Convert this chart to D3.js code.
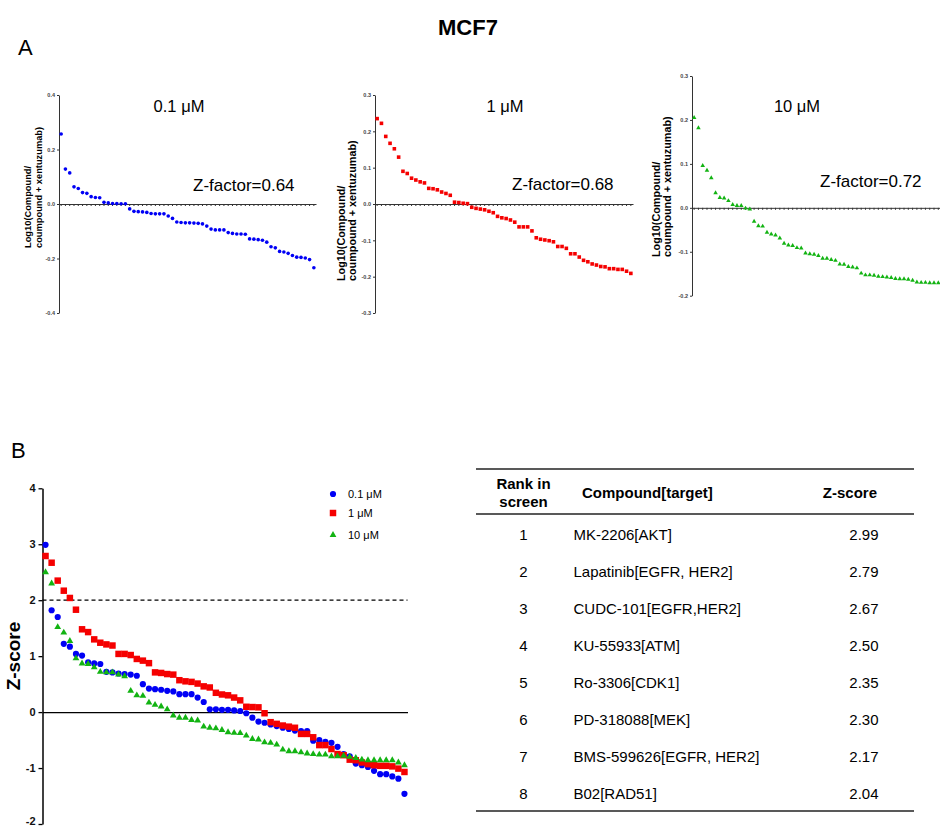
<!DOCTYPE html>
<html>
<head>
<meta charset="utf-8">
<script src="https://cdn.jsdelivr.net/npm/d3@7"></script>
<style>
  html, body { margin: 0; padding: 0; background: #fff; }
  svg { display: block; font-family: "Liberation Sans", Arial, sans-serif; }
</style>
</head>
<body>
<svg id="chart" width="940" height="827"></svg>
<script>
// ---------------- DATA ----------------
// Panel A: Log10(Compound / compound + xentuzumab), sorted, 60 compounds per concentration
const a01 = [0.257,0.128,0.114,0.063,0.057,0.042,0.039,0.027,0.024,0.023,0.006,0.004,0.002,0.002,0.001,0.001,-0.018,-0.027,-0.028,-0.029,-0.031,-0.035,-0.036,-0.036,-0.036,-0.044,-0.053,-0.066,-0.068,-0.069,-0.069,-0.070,-0.071,-0.073,-0.081,-0.092,-0.095,-0.095,-0.095,-0.105,-0.108,-0.110,-0.110,-0.111,-0.128,-0.129,-0.131,-0.133,-0.140,-0.157,-0.161,-0.174,-0.176,-0.181,-0.189,-0.195,-0.196,-0.198,-0.204,-0.234];
const a1 = [0.235,0.222,0.186,0.167,0.152,0.129,0.090,0.084,0.071,0.066,0.061,0.058,0.043,0.042,0.039,0.033,0.029,0.024,0.005,0.004,0.002,0.001,-0.009,-0.012,-0.014,-0.016,-0.020,-0.024,-0.034,-0.038,-0.040,-0.044,-0.050,-0.063,-0.063,-0.063,-0.074,-0.093,-0.097,-0.099,-0.101,-0.104,-0.117,-0.117,-0.122,-0.137,-0.137,-0.146,-0.155,-0.159,-0.165,-0.168,-0.172,-0.173,-0.178,-0.178,-0.180,-0.180,-0.185,-0.191];
const a10 = [0.205,0.182,0.096,0.085,0.068,0.034,0.023,0.022,0.016,0.007,0.005,0.005,-0.001,-0.003,-0.031,-0.041,-0.042,-0.056,-0.060,-0.062,-0.069,-0.081,-0.085,-0.086,-0.091,-0.092,-0.103,-0.105,-0.106,-0.109,-0.115,-0.115,-0.118,-0.120,-0.128,-0.129,-0.134,-0.135,-0.137,-0.149,-0.153,-0.153,-0.154,-0.156,-0.157,-0.158,-0.159,-0.161,-0.162,-0.162,-0.163,-0.165,-0.169,-0.170,-0.170,-0.171,-0.171,-0.171,-0.172,-0.173];
const ticksA01 = [0.4, 0.2, 0.0, -0.2, -0.4];
const ticksA1 = [0.3, 0.2, 0.1, 0.0, -0.1, -0.2, -0.3];
const ticksA10 = [0.3, 0.2, 0.1, 0.0, -0.1, -0.2];
const titlesA = ["0.1 μM", "1 μM", "10 μM"];
const zFactors = ["Z-factor=0.64", "Z-factor=0.68", "Z-factor=0.72"];
const yLabelLines = ["Log10(Compound/", "coumpound + xentuzumab)"];

// Panel B: Z-scores, sorted, 60 compounds per concentration
const zBlue = [2.99,1.82,1.70,1.22,1.17,1.04,1.01,0.89,0.87,0.86,0.72,0.71,0.69,0.68,0.67,0.65,0.50,0.42,0.41,0.40,0.38,0.37,0.32,0.32,0.32,0.26,0.18,0.05,0.05,0.04,0.04,0.03,0.02,-0.02,-0.10,-0.17,-0.19,-0.22,-0.25,-0.28,-0.30,-0.33,-0.34,-0.34,-0.51,-0.50,-0.53,-0.55,-0.62,-0.75,-0.79,-0.92,-0.95,-0.98,-1.05,-1.11,-1.11,-1.15,-1.19,-1.46];
const zRed = [2.79,2.67,2.35,2.17,2.04,1.83,1.48,1.43,1.30,1.24,1.21,1.19,1.04,1.04,1.02,0.95,0.92,0.875,0.71,0.70,0.68,0.67,0.57,0.55,0.54,0.51,0.46,0.44,0.345,0.315,0.30,0.26,0.21,0.095,0.09,0.085,-0.02,-0.18,-0.21,-0.24,-0.26,-0.28,-0.39,-0.39,-0.45,-0.59,-0.59,-0.66,-0.75,-0.77,-0.85,-0.86,-0.90,-0.93,-0.95,-0.96,-0.96,-0.97,-1.01,-1.07];
const zGreen = [2.50,2.30,1.52,1.42,1.27,0.96,0.87,0.86,0.80,0.72,0.71,0.71,0.67,0.64,0.38,0.30,0.29,0.17,0.13,0.10,0.05,-0.06,-0.10,-0.10,-0.14,-0.15,-0.26,-0.28,-0.29,-0.32,-0.36,-0.37,-0.375,-0.42,-0.48,-0.49,-0.54,-0.55,-0.58,-0.67,-0.70,-0.70,-0.72,-0.74,-0.75,-0.76,-0.76,-0.79,-0.79,-0.78,-0.80,-0.82,-0.85,-0.86,-0.86,-0.86,-0.86,-0.86,-0.90,-0.95];
const ticksB = [4, 3, 2, 1, 0, -1, -2];
const legendB = ["0.1 μM", "1 μM", "10 μM"];
const hitThreshold = 2;

// Table
const tableHeader = ["Rank in", "screen", "Compound[target]", "Z-score"];
const ranks = [1, 2, 3, 4, 5, 6, 7, 8];
const compounds = ["MK-2206[AKT]", "Lapatinib[EGFR, HER2]", "CUDC-101[EGFR,HER2]", "KU-55933[ATM]", "Ro-3306[CDK1]", "PD-318088[MEK]", "BMS-599626[EGFR, HER2]", "B02[RAD51]"];
const zscores = ["2.99", "2.79", "2.67", "2.50", "2.35", "2.30", "2.17", "2.04"];

// ---------------- STYLE ----------------
const BLUE = "#0000f5", RED = "#f50000", GREEN = "#12b312";
const svg = d3.select("#chart");
const fmt1 = v => d3.format(".1f")(v).replace("\u2212", "-");
const fmt0 = v => d3.format("d")(v).replace("\u2212", "-");

// Headline and panel letters
svg.append("text").attr("x", 468).attr("y", 35).attr("text-anchor", "middle")
  .attr("font-size", 22).attr("font-weight", "bold").text("MCF7");
svg.append("text").attr("x", 18).attr("y", 55).attr("font-size", 22).text("A");
svg.append("text").attr("x", 11).attr("y", 458).attr("font-size", 22).text("B");

// ---------------- PANEL A ----------------
function panelA(o) {
  const g = svg.append("g");
  const x = d3.scaleBand().domain(d3.range(o.data.length)).range(o.xRange);
  const y = d3.scaleLinear().domain(o.yDomain).range(o.yRange);

  const ya = g.append("g").attr("transform", `translate(${o.xRange[0]},0)`)
    .call(d3.axisLeft(y).tickValues(o.ticks).tickSize(2).tickSizeOuter(0).tickPadding(2).tickFormat(fmt1));
  ya.select(".domain").attr("stroke", "#333");
  ya.selectAll(".tick line").attr("stroke", "#333");
  ya.selectAll(".tick text").attr("font-size", 5.5).attr("font-weight", "bold").attr("fill", "#444")
    .attr("font-family", "'Liberation Sans', Arial, sans-serif");

  const xa = g.append("g").attr("transform", `translate(0,${y(0)})`)
    .call(d3.axisBottom(x).tickSize(2).tickSizeOuter(0).tickFormat(""));
  xa.select(".domain").attr("stroke", "#333");
  xa.selectAll(".tick line").attr("stroke", "#333");

  g.selectAll("path.pt").data(o.data).join("path").attr("class", "pt")
    .attr("transform", (d, i) => `translate(${x(i) + x.bandwidth() / 2},${y(d)})`)
    .attr("d", d3.symbol().type(o.symbol).size(o.size))
    .attr("fill", o.color);

  g.append("text").attr("x", o.titleX).attr("y", 112).attr("text-anchor", "middle")
    .attr("font-size", 16.5).text(o.title);
  g.append("text").attr("x", o.zX).attr("y", o.zY).attr("font-size", 17).text(o.z);

  yLabelLines.forEach((t, k) => {
    g.append("text")
      .attr("transform", `translate(${o.labX[k]},${o.labBottom}) rotate(-90)`)
      .attr("font-size", o.labFont).attr("font-weight", "bold").text(t);
  });
}

panelA({ data: a01, xRange: [59, 316], yDomain: [-0.4, 0.4], yRange: [313, 95], ticks: ticksA01,
  color: BLUE, symbol: d3.symbolCircle, size: 10.5, title: titlesA[0], titleX: 179,
  z: zFactors[0], zX: 193, zY: 191, labX: [31, 42], labBottom: 248, labFont: 9.3 });
panelA({ data: a1, xRange: [375, 633], yDomain: [-0.3, 0.3], yRange: [313, 95], ticks: ticksA1,
  color: RED, symbol: d3.symbolSquare, size: 13, title: titlesA[1], titleX: 505,
  z: zFactors[1], zX: 512, zY: 190, labX: [345, 356], labBottom: 281, labFont: 10.8 });
panelA({ data: a10, xRange: [692, 949], yDomain: [-0.2, 0.3], yRange: [295.7, 76], ticks: ticksA10,
  color: GREEN, symbol: d3.symbolTriangle, size: 9, title: titlesA[2], titleX: 797,
  z: zFactors[2], zX: 820, zY: 187, labX: [660, 671], labBottom: 257, labFont: 10.8 });

// ---------------- PANEL B ----------------
(function panelB() {
  const g = svg.append("g");
  const x = d3.scaleBand().domain(d3.range(zBlue.length)).range([42.5, 407.5]);
  const y = d3.scaleLinear().domain([-2, 4]).range([824, 488.3]);

  const ya = g.append("g").attr("transform", "translate(42.5,0)")
    .call(d3.axisLeft(y).tickValues(ticksB).tickSize(4).tickSizeOuter(0).tickPadding(3).tickFormat(fmt0));
  ya.select(".domain").attr("stroke", "#000").attr("stroke-width", 1.5);
  ya.selectAll(".tick line").attr("stroke", "#000").attr("stroke-width", 1.3);
  ya.selectAll(".tick text").attr("font-size", 11).attr("font-weight", "bold").attr("fill", "#111")
    .attr("font-family", "'Liberation Sans', Arial, sans-serif")
    .attr("dy", d => d === -2 ? "0.05em" : "0.32em");

  const xa = g.append("g").attr("transform", `translate(0,${y(0)})`)
    .call(d3.axisBottom(x).tickSize(0).tickSizeOuter(0).tickFormat(""));
  xa.select(".domain").attr("stroke", "#000").attr("stroke-width", 1.3);

  g.append("line").attr("x1", 42.5).attr("x2", 407.5).attr("y1", y(hitThreshold)).attr("y2", y(hitThreshold))
    .attr("stroke", "#000").attr("stroke-width", 1.2).attr("stroke-dasharray", "4,3");

  const series = [
    { data: zBlue, color: BLUE, type: d3.symbolCircle, size: 30 },
    { data: zRed, color: RED, type: d3.symbolSquare, size: 42 },
    { data: zGreen, color: GREEN, type: d3.symbolTriangle, size: 20 }
  ];
  series.forEach(s => {
    g.append("g").selectAll("path").data(s.data).join("path")
      .attr("transform", (d, i) => `translate(${x(i) + x.bandwidth() / 2},${y(d)})`)
      .attr("d", d3.symbol().type(s.type).size(s.size))
      .attr("fill", s.color);
  });

  g.append("text").attr("transform", `translate(20,656) rotate(-90)`).attr("text-anchor", "middle")
    .attr("font-size", 19).attr("font-weight", "bold").text("Z-score");

  const ly = [494, 513, 535];
  series.forEach((s, k) => {
    g.append("path").attr("transform", `translate(333,${ly[k]})`)
      .attr("d", d3.symbol().type(s.type).size(s.size)).attr("fill", s.color);
    g.append("text").attr("x", 348).attr("y", ly[k] + 4).attr("font-size", 11).text(legendB[k]);
  });
})();

// ---------------- TABLE ----------------
(function table() {
  const g = svg.append("g");
  const rule = (yy) => g.append("line").attr("x1", 476).attr("x2", 914).attr("y1", yy).attr("y2", yy)
    .attr("stroke", "#222").attr("stroke-width", 1.5);
  rule(469); rule(514); rule(811);

  g.append("text").attr("x", 523.5).attr("y", 489).attr("text-anchor", "middle")
    .attr("font-size", 15).attr("font-weight", "bold").text(tableHeader[0]);
  g.append("text").attr("x", 523.5).attr("y", 507).attr("text-anchor", "middle")
    .attr("font-size", 15).attr("font-weight", "bold").text(tableHeader[1]);
  g.append("text").attr("x", 582).attr("y", 497.5)
    .attr("font-size", 15).attr("font-weight", "bold").text(tableHeader[2]);
  g.append("text").attr("x", 877).attr("y", 497.5).attr("text-anchor", "end")
    .attr("font-size", 15).attr("font-weight", "bold").text(tableHeader[3]);

  const rowY = d3.scaleLinear().domain([1, 8]).range([540, 798.5]);
  ranks.forEach((r, i) => {
    const yy = rowY(r);
    g.append("text").attr("x", 523.5).attr("y", yy).attr("text-anchor", "middle").attr("font-size", 15).text(r);
    g.append("text").attr("x", 573.5).attr("y", yy).attr("font-size", 15).text(compounds[i]);
    g.append("text").attr("x", 878.5).attr("y", yy).attr("text-anchor", "end").attr("font-size", 15).text(zscores[i]);
  });
})();
</script>
</body>
</html>
